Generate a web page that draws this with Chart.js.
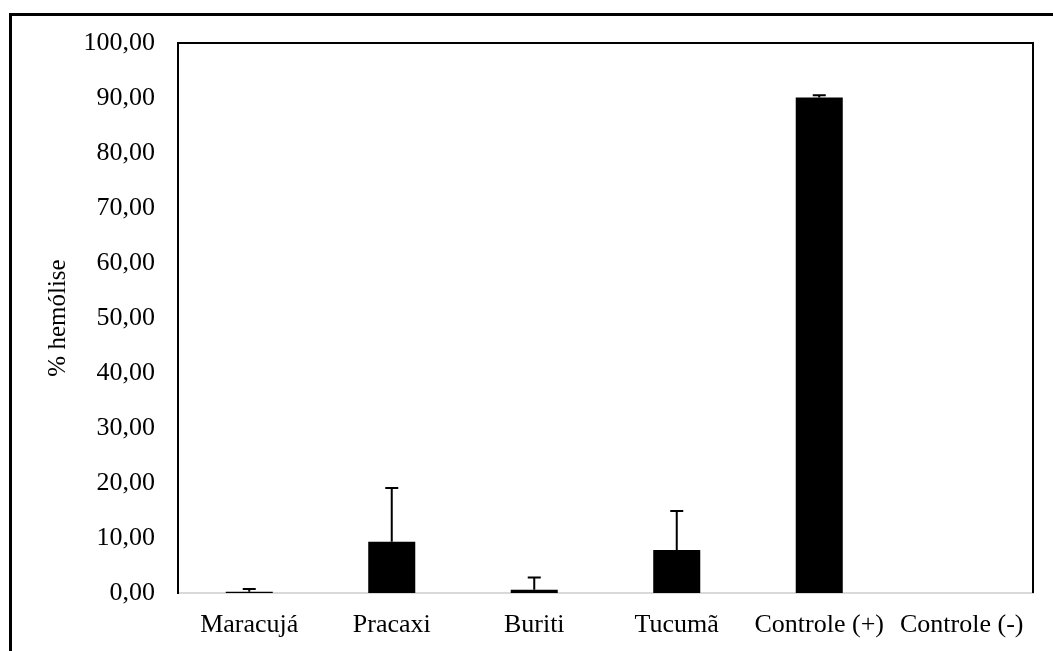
<!DOCTYPE html>
<html>
<head>
<meta charset="utf-8">
<script src="https://cdn.jsdelivr.net/npm/chart.js@4/dist/chart.umd.min.js"></script>
<style>
  html, body { margin: 0; padding: 0; background: #ffffff; }
  #wrap { position: relative; width: 1053px; height: 651px; }
</style>
</head>
<body>
<div id="wrap"><canvas id="chart"></canvas></div>
<script>
// Data
const categories = ['Maracujá', 'Pracaxi', 'Buriti', 'Tucumã', 'Controle (+)', 'Controle (-)'];
const hemolysis = [0.25, 9.3, 0.6, 7.8, 90.1, 0];
const errorsUp = [0.5, 9.8, 2.2, 7.1, 0.4, 0];
const yTicks = [0, 10, 20, 30, 40, 50, 60, 70, 80, 90, 100];

const fontFamily = '"Liberation Serif", "Times New Roman", serif';

// Frame around the whole figure and the top/right border of the plot
const framePlugin = {
  id: 'frame',
  beforeDraw(chart) {
    const ctx = chart.ctx;
    ctx.save();
    ctx.fillStyle = '#ffffff';
    ctx.fillRect(0, 0, chart.width, chart.height);
    ctx.strokeStyle = '#000000';
    ctx.lineWidth = 3;
    ctx.strokeRect(10.5, 14.5, chart.width + 20, chart.height + 20);
    ctx.restore();
  },
  afterDraw(chart) {
    const { left, top, right } = chart.chartArea;
    const ctx = chart.ctx;
    ctx.save();
    ctx.strokeStyle = '#000000';
    ctx.lineWidth = 2;
    ctx.beginPath();
    ctx.moveTo(left - 1, top);
    ctx.lineTo(right, top);
    ctx.lineTo(right, chart.scales.x.bottom - chart.scales.x.height);
    ctx.stroke();
    ctx.restore();
  }
};

// Upper error bars, positioned with the y scale
const errorBarPlugin = {
  id: 'errorBars',
  afterDatasetsDraw(chart) {
    const ctx = chart.ctx;
    const meta = chart.getDatasetMeta(0);
    const y = chart.scales.y;
    ctx.save();
    ctx.strokeStyle = '#000000';
    ctx.lineWidth = 2;
    meta.data.forEach((bar, i) => {
      const err = errorsUp[i];
      if (!err) return;
      const yTop = y.getPixelForValue(hemolysis[i]);
      const yErr = y.getPixelForValue(hemolysis[i] + err);
      ctx.beginPath();
      ctx.moveTo(bar.x, yTop);
      ctx.lineTo(bar.x, yErr);
      ctx.moveTo(bar.x - 6.5, yErr);
      ctx.lineTo(bar.x + 6.5, yErr);
      ctx.stroke();
    });
    ctx.restore();
  }
};

new Chart(document.getElementById('chart'), {
  type: 'bar',
  data: {
    labels: categories,
    datasets: [{
      data: hemolysis,
      backgroundColor: '#000000',
      borderWidth: 0,
      categoryPercentage: 1,
      barPercentage: 0.33
    }]
  },
  options: {
    responsive: true,
    maintainAspectRatio: false,
    animation: false,
    layout: { padding: { left: 0, top: 43, right: 20, bottom: 0 } },
    plugins: {
      legend: { display: false },
      tooltip: { enabled: false }
    },
    scales: {
      x: {
        grid: { display: false, drawTicks: false },
        border: { display: true, color: '#d9d9d9', width: 2 },
        ticks: {
          color: '#000000',
          padding: 17,
          maxRotation: 0,
          font: { family: fontFamily, size: 26 }
        },
        afterFit(scale) { scale.height = 58; }
      },
      y: {
        min: 0,
        max: 100,
        afterBuildTicks(scale) {
          scale.ticks = yTicks.map(v => ({ value: v }));
        },
        grid: { display: false, drawTicks: false },
        border: { display: true, color: '#000000', width: 2 },
        ticks: {
          color: '#000000',
          padding: 23,
          font: { family: fontFamily, size: 26 },
          callback: (v) => v.toFixed(2).replace('.', ',')
        },
        title: {
          display: true,
          text: '% hemólise',
          color: '#000000',
          padding: { top: 43, bottom: 0 },
          font: { family: fontFamily, size: 25 }
        },
        afterFit(scale) { scale.width = 178; }
      }
    }
  },
  plugins: [framePlugin, errorBarPlugin]
});
</script>
</body>
</html>
